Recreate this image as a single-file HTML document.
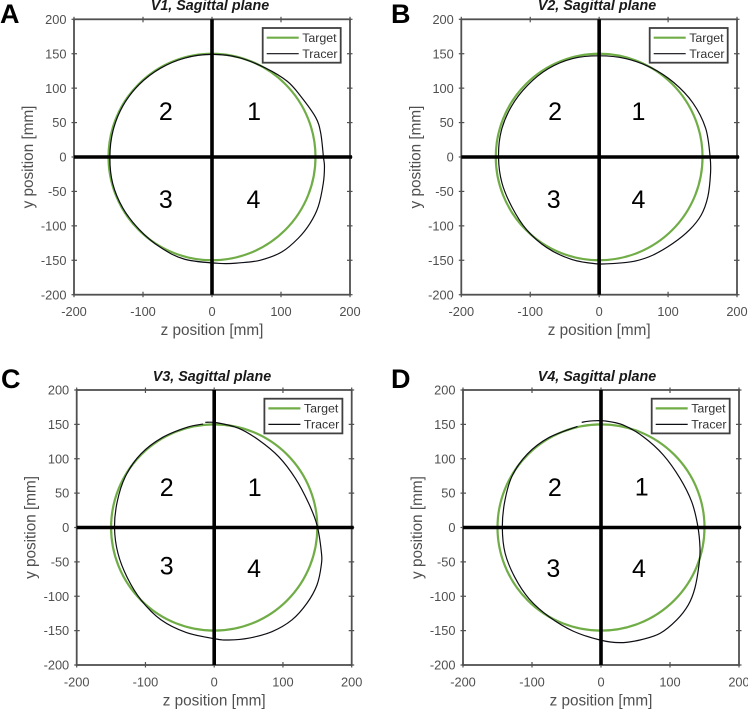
<!DOCTYPE html>
<html lang="en">
<head>
<meta charset="utf-8">
<title>Sagittal plane tracer plots</title>
<style>
html,body{margin:0;padding:0;background:#fff;}
#figure{display:block;width:748px;height:710px;font-family:"Liberation Sans",Arial,sans-serif;}
</style>
</head>
<body>
<svg id="figure" xmlns="http://www.w3.org/2000/svg" width="748" height="710" viewBox="0 0 748 710"></svg>
<script>
// ---- data (mm) ----
const xTicks = [-200, -100, 0, 100, 200];
const yTicks = [-200, -150, -100, -50, 0, 50, 100, 150, 200];
const axisMin = -200;
const axisMax = 200;
const targetRadius = 150;

const tracerZA = [0, 38.7, 78, 109, 128, 150, 157.5, 161.5, 163, 161.3, 154, 142, 125, 101, 69.6, 40.6, 11.6, -39.6, -75.5, -105.4, -129, -143.9, -148, -143.4, -129, -105.4, -74.5, -38.6];
const tracerYA = [149, 144.4, 129, 110, 89, 58, 35, 0, -14, -38, -72, -96.5, -118, -138, -150, -153.7, -154.6, -148.5, -130.8, -105.4, -74.5, -38.6, 0, 38.4, 74.5, 105.4, 129, 143.9];

const tracerZB = [0, 38.3, 75, 108.2, 136, 154.6, 161, 161.6, 157.7, 148, 131, 107, 78, 51.4, 22.5, -5, -39.9, -76, -105.4, -126.4, -141, -146, -142, -127.3, -104, -74, -38.3];
const tracerYB = [147, 143, 129.9, 108.2, 78.5, 41.4, 0, -23.7, -57.7, -84.4, -106, -125.5, -142.5, -151.3, -154.6, -155, -148.8, -131.6, -105.4, -73, -37.8, 0, 38, 73.5, 104, 128.2, 143];

const tracerZC = [-13, 4, 35.6, 64.7, 93.8, 118, 137.4, 149.5, 155.8, 155.8, 149.5, 135, 113, 84, 50, 21, 1.6, -40.9, -77.5, -106, -126.4, -140, -145, -141, -129, -106.8, -75.5, -39, -16];
const tracerYC = [153, 152.4, 144.3, 127.3, 103, 71.5, 35.2, 3.6, -35, -54.5, -83.6, -110, -134.5, -151.5, -161, -163.6, -162, -152.6, -134.2, -106, -73, -37.5, 0, 37.8, 74.5, 106.8, 130.8, 145.9, 150.5];

const tracerZD = [-28, -14, 5.8, 32.3, 61.3, 90.3, 114.5, 131.4, 140, 143.5, 142, 136, 126.5, 109.7, 85.5, 56.5, 27.5, -1.5, -40.4, -75, -104, -125, -139, -143, -139.6, -129, -106.8, -75.5, -34];
const tracerYD = [153, 155, 155, 149, 132, 105.5, 71.5, 37.5, 3.6, -30, -54.5, -88.5, -112.7, -134.5, -154, -163.6, -167.5, -163.6, -150.7, -130, -104, -72.3, -37.3, 0, 37.4, 74.5, 106.8, 130.8, 147];

const regionLabels = ["1", "2", "3", "4"];
const regionZA = [61, -67, -67, 60];
const regionYA = [67, 67, -61, -61];
const regionZB = [57, -64, -66, 57];
const regionYB = [67, 67, -61, -61];
const regionZC = [59, -69, -69, 58];
const regionYC = [59, 59, -55, -59];
const regionZD = [59, -67, -69, 55];
const regionYD = [60, 59, -59, -59];

const legendLabels = ["Target", "Tracer"];
const xAxisTitle = "z position [mm]";
const yAxisTitle = "y position [mm]";

// ---- layout ----
const panels = [
  {id:"a", letter:"A", title:"V1, Sagittal plane", left:74, right:350, top:19.3, bottom:294.7, lx:0, ly:23, tx:210, ty:10, z:tracerZA, y:tracerYA, closed:true, rz:regionZA, ry:regionYA},
  {id:"b", letter:"B", title:"V2, Sagittal plane", left:461.3, right:737, top:19.3, bottom:294.7, lx:391, ly:23, tx:597, ty:10, z:tracerZB, y:tracerYB, closed:true, rz:regionZB, ry:regionYB},
  {id:"c", letter:"C", title:"V3, Sagittal plane", left:76.7, right:351.7, top:390, bottom:665, lx:1, ly:388, tx:212, ty:381, z:tracerZC, y:tracerYC, closed:false, rz:regionZC, ry:regionYC},
  {id:"d", letter:"D", title:"V4, Sagittal plane", left:463, right:739, top:390, bottom:665, lx:391, ly:388, tx:597, ty:381, z:tracerZD, y:tracerYD, closed:false, rz:regionZD, ry:regionYD}
];

const svg = document.getElementById("figure");
const NS = "http://www.w3.org/2000/svg";
const GRAY = "#505050";

function make(parent, tag, attrs, text) {
  const el = document.createElementNS(NS, tag);
  for (const k in attrs) el.setAttribute(k, attrs[k]);
  if (text !== undefined) el.textContent = text;
  parent.appendChild(el);
  return el;
}

function smoothPath(pts, closed) {
  const n = pts.length;
  const at = function (i) {
    if (closed) return pts[(i + n) % n];
    return pts[Math.max(0, Math.min(n - 1, i))];
  };
  const last = closed ? n : n - 1;
  let d = "M" + pts[0][0].toFixed(2) + " " + pts[0][1].toFixed(2);
  for (let i = 0; i < last; i++) {
    const p0 = at(i - 1), p1 = at(i), p2 = at(i + 1), p3 = at(i + 2);
    const c1x = p1[0] + (p2[0] - p0[0]) / 6, c1y = p1[1] + (p2[1] - p0[1]) / 6;
    const c2x = p2[0] - (p3[0] - p1[0]) / 6, c2y = p2[1] - (p3[1] - p1[1]) / 6;
    d += "C" + c1x.toFixed(2) + " " + c1y.toFixed(2) + " " + c2x.toFixed(2) + " " + c2y.toFixed(2) + " " + p2[0].toFixed(2) + " " + p2[1].toFixed(2);
  }
  return d + (closed ? "Z" : "");
}

panels.forEach(function (p) {
  const sx = function (v) { return p.left + (v - axisMin) / (axisMax - axisMin) * (p.right - p.left); };
  const sy = function (v) { return p.bottom - (v - axisMin) / (axisMax - axisMin) * (p.bottom - p.top); };

  const g = make(svg, "g", {});
  
  

  const letter = make(g, "text", {x:p.lx, y:p.ly, "font-size":27, "font-weight":"bold", fill:"#000"}, p.letter);
  
  

  const title = make(g, "text", {x:p.tx, y:p.ty, "font-size":14.3, "font-weight":"bold", "font-style":"italic", "text-anchor":"middle", fill:"#1a1a1a"}, p.title);
  
  

  const frame = make(g, "rect", {x:p.left, y:p.top, width:p.right - p.left, height:p.bottom - p.top, fill:"none", stroke:GRAY, "stroke-width":1.8});
  
  

  xTicks.forEach(function (t) {
    const x = sx(t);
    const tb = make(g, "line", {x1:x, x2:x, y1:p.bottom - 3, y2:p.bottom + 2.5, stroke:GRAY, "stroke-width":1.2});
    
    
    const tt = make(g, "line", {x1:x, x2:x, y1:p.top - 2.5, y2:p.top + 3, stroke:GRAY, "stroke-width":1.2});
    
    
    const lab = make(g, "text", {x:x, y:p.bottom + 21.5, "font-size":12.8, "text-anchor":"middle", fill:GRAY}, String(t));
    
    
  });

  yTicks.forEach(function (t) {
    const y = sy(t);
    const tl = make(g, "line", {x1:p.left - 2.5, x2:p.left + 3, y1:y, y2:y, stroke:GRAY, "stroke-width":1.2});
    
    
    const tr = make(g, "line", {x1:p.right - 3, x2:p.right + 2.5, y1:y, y2:y, stroke:GRAY, "stroke-width":1.2});
    
    
    const lab = make(g, "text", {x:p.left - 7.5, y:y + 4.6, "font-size":12.8, "text-anchor":"end", fill:GRAY}, String(t));
    
    
  });

  const xt = make(g, "text", {x:(p.left + p.right) / 2, y:p.bottom + 40.5, "font-size":15.3, "text-anchor":"middle", fill:GRAY}, xAxisTitle);
  
  

  const yx = p.left - 41, yy = (p.top + p.bottom) / 2;
  const yt = make(g, "text", {x:yx, y:yy, "font-size":15.3, "text-anchor":"middle", fill:GRAY, transform:"rotate(-90 " + yx + " " + yy + ")"}, yAxisTitle);
  
  

  const target = make(g, "ellipse", {cx:sx(0), cy:sy(0), rx:sx(targetRadius) - sx(0), ry:sy(0) - sy(targetRadius), fill:"none", stroke:"#70ad47", "stroke-width":2.2});
  
  

  const pts = p.z.map(function (z, i) { return [sx(z), sy(p.y[i])]; });
  const tracer = make(g, "path", {d:smoothPath(pts, p.closed), fill:"none", stroke:"#0d0d14", "stroke-width":1.2});
  
  

  const hAxis = make(g, "line", {x1:sx(axisMin), x2:sx(axisMax) + 2, y1:sy(0), y2:sy(0), stroke:"#000", "stroke-width":3.6});
  
  
  const vAxis = make(g, "line", {x1:sx(0), x2:sx(0), y1:sy(axisMax), y2:sy(axisMin), stroke:"#000", "stroke-width":3.6});
  
  

  regionLabels.forEach(function (t, i) {
    const r = make(g, "text", {x:sx(p.rz[i]), y:sy(p.ry[i]) + 9, "font-size":25, "text-anchor":"middle", fill:"#000"}, t);
    
    
  });

  const lx = p.right - 87.3, ly = p.top + 8.7;
  const legend = make(g, "g", {});
  
  
  make(legend, "rect", {x:lx, y:ly, width:78, height:34.7, fill:"#fff", stroke:"#404040", "stroke-width":1.8});
  const colors = ["#70ad47", "#0d0d14"];
  const widths = [2.2, 1.2];
  legendLabels.forEach(function (t, i) {
    const rowY = ly + 9.7 + i * 16;
    const s = make(legend, "line", {x1:lx + 4, x2:lx + 36, y1:rowY, y2:rowY, stroke:colors[i], "stroke-width":widths[i]});
    
    
    const l = make(legend, "text", {x:lx + 39.5, y:rowY + 4.2, "font-size":12.4, fill:"#333"}, t);
    
    
  });
});
</script>
</body>
</html>
